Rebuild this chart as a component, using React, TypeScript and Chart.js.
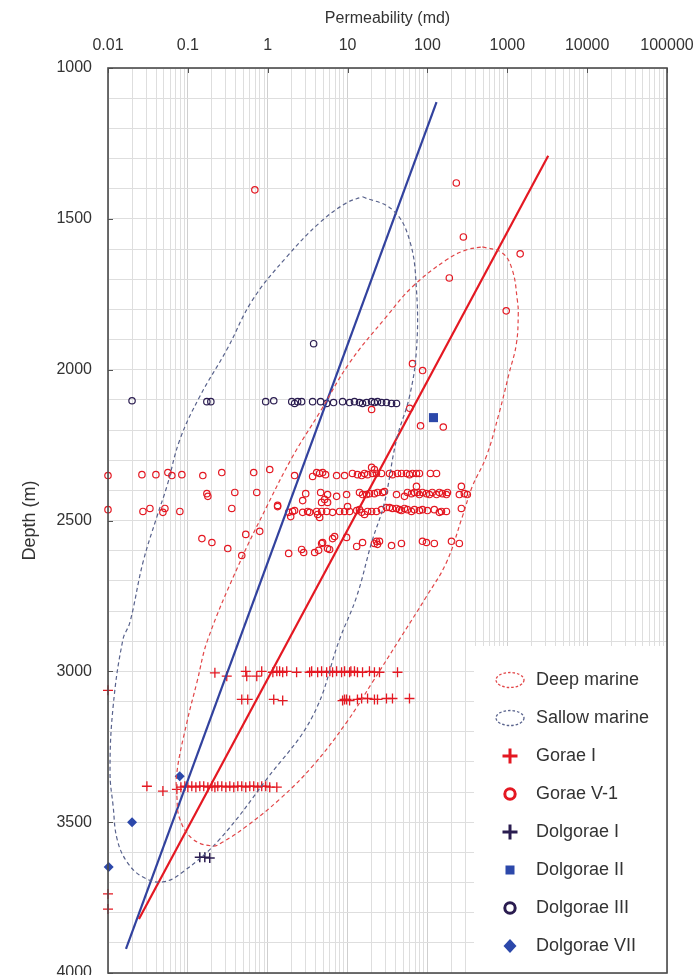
import React, { useEffect, useRef } from "react";
import { Chart, registerables } from "chart.js";

Chart.register(...registerables);

// ---------- axes ----------
const xMajorTicks = [0.01, 0.1, 1, 10, 100, 1000, 10000, 100000];
const xTickLabels = ["0.01", "0.1", "1", "10", "100", "1000", "10000", "100000"];
const xMinorSteps = [2, 3, 4, 5, 6, 7, 8, 9];
const yMin = 1000;
const yMax = 4000;
const yStep = 100;
const yLabelStep = 500;

const xTitle = "Permeability (md)";
const yTitle = "Depth (m)";

// ---------- series: [permeability (md), depth (m)] ----------
const goraeI: number[][] = [
  [0.218, 3005], [0.307, 3016], [0.531, 3000], [0.546, 3016], [0.729, 3016], [0.841, 3000],
  [1.16, 3003], [1.3, 3000], [1.41, 3000], [1.54, 3003], [1.73, 3000], [2.3, 3003],
  [3.35, 3003], [3.55, 3000], [4.22, 3003], [4.73, 3000], [5.47, 3003], [6.0, 3000],
  [6.49, 3003], [7.29, 3000], [8.41, 3003], [9.17, 3000], [10.6, 3003], [11.0, 3000],
  [12.2, 3000], [13.3, 3003], [15.4, 3003], [18.8, 3000], [21.7, 3003], [25.1, 3003],
  [42.2, 3003],
  [0.01, 3063],
  [0.473, 3093], [0.562, 3093], [1.19, 3093], [1.54, 3097], [8.66, 3097], [9.17, 3093],
  [9.72, 3093], [10.6, 3097], [13.3, 3093], [15.0, 3090], [17.8, 3090], [21.7, 3093],
  [23.7, 3093], [30.7, 3090], [36.5, 3090], [59.6, 3090],
  [0.0307, 3381], [0.0487, 3397], [0.0729, 3391], [0.0818, 3384], [0.0917, 3381], [0.1, 3384],
  [0.112, 3381], [0.126, 3384], [0.141, 3381], [0.158, 3381], [0.178, 3384], [0.2, 3381],
  [0.218, 3384], [0.237, 3381], [0.266, 3381], [0.299, 3384], [0.335, 3381], [0.376, 3384],
  [0.422, 3381], [0.473, 3381], [0.531, 3384], [0.596, 3381], [0.668, 3381], [0.75, 3384],
  [0.841, 3381], [0.944, 3381], [1.06, 3384], [1.3, 3384],
  [0.01, 3738], [0.01, 3788],
];

const goraeV1: number[][] = [
  [0.69, 1404], [230, 1381], [282, 1560], [1450, 1616], [188, 1696], [970, 1805],
  [65, 1980], [87, 2003], [20, 2132], [60, 2128], [82, 2186], [158, 2190],
  // ~2345 m
  [0.01, 2351], [0.0266, 2348], [0.0398, 2348], [0.0562, 2341], [0.0631, 2351], [0.0841, 2348],
  [0.154, 2351], [0.266, 2341], [0.668, 2341], [1.06, 2331], [2.17, 2351], [3.65, 2354],
  [4.1, 2341], [4.47, 2344], [4.87, 2341], [5.3, 2348], [7.29, 2351], [9.17, 2351],
  [11.5, 2344], [13.3, 2348], [15.0, 2351], [16.3, 2344], [17.8, 2348], [20.0, 2324],
  [21.7, 2331], [20.5, 2344], [23.0, 2344], [26.6, 2344], [33.5, 2344], [36.5, 2348],
  [42.2, 2344], [47.3, 2344], [54.7, 2344], [59.6, 2348], [64.9, 2344], [72.9, 2344],
  [79.4, 2344], [109, 2344], [130, 2344],
  // ~2410 m
  [0.173, 2411], [0.178, 2420], [0.387, 2407], [0.729, 2407], [1.33, 2450], [2.74, 2434],
  [2.99, 2411], [4.6, 2407], [4.73, 2440], [5.16, 2430], [5.62, 2440], [5.62, 2414],
  [7.29, 2420], [9.72, 2414], [14.1, 2407], [15.4, 2414], [17.3, 2414], [18.8, 2411],
  [21.7, 2411], [23.7, 2407], [27.4, 2407], [29.0, 2404], [41.0, 2414], [51.6, 2420],
  [56.2, 2407], [63.1, 2411], [68.8, 2407], [72.9, 2387], [75, 2407], [79.4, 2414],
  [86.6, 2407], [97.2, 2411], [106, 2414], [115, 2407], [130, 2414], [141, 2407],
  [154, 2411], [173, 2414], [178, 2407], [266, 2387], [251, 2414], [290, 2411], [316, 2414],
  // ~2467 m
  [0.01, 2464], [0.0274, 2470], [0.0335, 2460], [0.0487, 2473], [0.0516, 2460], [0.0794, 2470],
  [0.355, 2460], [1.33, 2454], [1.83, 2473], [1.94, 2487], [2.05, 2470], [2.17, 2467],
  [2.74, 2473], [3.16, 2470], [3.35, 2473], [4.1, 2470], [4.22, 2480], [4.47, 2490],
  [4.73, 2470], [5.47, 2470], [6.49, 2473], [7.94, 2470], [9.17, 2470], [10, 2454],
  [10.6, 2470], [13.0, 2467], [14.1, 2464], [15.0, 2473], [16.3, 2480], [17.8, 2470],
  [20.0, 2470], [23.0, 2470], [26.6, 2464], [30.7, 2457], [33.5, 2457], [36.5, 2460],
  [41.0, 2460], [44.7, 2464], [47.3, 2467], [51.6, 2460], [56.2, 2464], [63.1, 2470],
  [68.8, 2464], [79.4, 2467], [86.6, 2464], [100, 2467], [122, 2464], [141, 2473],
  [150, 2470], [173, 2470], [266, 2460],
  // ~2580 m
  [0.15, 2560], [0.2, 2573], [0.316, 2593], [0.473, 2616], [0.531, 2546], [0.794, 2536],
  [1.83, 2609], [2.66, 2596], [2.82, 2606], [3.87, 2606], [4.34, 2599], [4.73, 2576],
  [4.87, 2573], [5.62, 2593], [5.96, 2596], [6.49, 2560], [6.88, 2553], [9.72, 2556],
  [13.0, 2586], [15.4, 2573], [21.7, 2576], [23.0, 2569], [23.7, 2579], [25.1, 2569],
  [35.5, 2583], [47.3, 2576], [86.6, 2569], [97.2, 2573], [122, 2576], [200, 2569], [251, 2576],
];

const dolgoraeI: number[][] = [[0.141, 3616], [0.163, 3616], [0.188, 3619]];
const dolgoraeII: number[][] = [[119, 2159]];
const dolgoraeIII: number[][] = [
  [0.02, 2103], [0.173, 2106], [0.194, 2106], [0.944, 2106], [1.19, 2103], [2.0, 2106],
  [2.17, 2112], [2.37, 2106], [2.66, 2106], [3.65, 2106], [4.6, 2106], [5.47, 2112],
  [6.68, 2109], [8.66, 2106], [10.6, 2109], [12.2, 2106], [14.1, 2109], [15.4, 2112],
  [17.3, 2109], [20, 2106], [21.7, 2109], [23.7, 2106], [26.7, 2109], [30.7, 2109],
  [35.5, 2112], [41, 2112], [3.76, 1914],
];
const dolgoraeVII: number[][] = [[0.079, 3348], [0.02, 3500], [0.0102, 3649]];

// trend lines
const deepTrend: number[][] = [[0.0244, 3821], [3255, 1291]];
const shallowTrend: number[][] = [[0.0168, 3920], [130, 1113]];

// envelope outlines
const deepEnvelope: number[][] = [
  [487, 1593], [866, 1613], [1155, 1669], [1334, 1768], [1372, 1818], [1295, 1917],
  [1059, 2010], [794, 2142], [546, 2288], [365, 2387], [274, 2487], [173, 2639],
  [97.2, 2752], [44.7, 2894], [20.5, 3036], [9.72, 3169], [3.65, 3314], [1.41, 3424],
  [0.546, 3513], [0.274, 3566], [0.205, 3579], [0.115, 3556], [0.0794, 3490], [0.0729, 3414],
  [0.0729, 3334], [0.0973, 3169], [0.13, 3036], [0.178, 2894], [0.447, 2639], [0.972, 2454],
  [2.05, 2288], [4.47, 2142], [10.6, 1977], [30.7, 1824], [64.9, 1725], [173, 1636],
  [307, 1603], [487, 1593],
];
const shallowEnvelope: number[][] = [
  [15.4, 1427], [36.5, 1470], [59.6, 1570], [72.9, 1735], [72.9, 1934], [59.6, 2089],
  [41, 2232], [29, 2440], [20, 2573], [13, 2752], [7.94, 2894], [3.65, 3149],
  [0.972, 3357], [0.251, 3556], [0.0866, 3665], [0.0487, 3698], [0.0274, 3682], [0.0173, 3632],
  [0.013, 3556], [0.0116, 3447], [0.0106, 3334], [0.0116, 3116], [0.0154, 2894], [0.0188, 2838],
  [0.0274, 2639], [0.041, 2487], [0.0546, 2387], [0.0794, 2232], [0.141, 2089], [0.307, 1934],
  [0.649, 1768], [1.73, 1626], [4.47, 1513], [9.72, 1447], [15.4, 1427],
];

// ---------- styles ----------
const FONT = "'Liberation Sans', Arial, sans-serif";
const TEXT = "#333333";
const RED = "rgb(228,24,34)";
const RED_DASH = "rgb(226,70,72)";
const BLUE_LINE = "rgb(50,66,158)";
const BLUE_DASH = "rgb(88,98,140)";
const NAVY = "rgb(42,28,80)";
const BLUE_MARK = "rgb(44,72,170)";

const toXY = (pts: number[][]) => pts.map(([x, y]) => ({ x, y }));

type LegendItem = { label: string; kind: string; color: string };
const legendItems: LegendItem[] = [
  { label: "Deep marine", kind: "ellipse", color: RED_DASH },
  { label: "Sallow marine", kind: "ellipse", color: BLUE_DASH },
  { label: "Gorae I", kind: "plus", color: RED },
  { label: "Gorae V-1", kind: "circle", color: RED },
  { label: "Dolgorae I", kind: "plus", color: NAVY },
  { label: "Dolgorae II", kind: "square", color: BLUE_MARK },
  { label: "Dolgorae III", kind: "circle", color: NAVY },
  { label: "Dolgorae VII", kind: "diamond", color: BLUE_MARK },
];

const isMajorValue = (v: number) => xMajorTicks.findIndex((m) => Math.abs(Math.log10(v) - Math.log10(m)) < 1e-6);

const overlayPlugin = {
  id: "overlay",
  afterDraw(chart: any) {
    const { ctx, chartArea: a, scales } = chart;
    ctx.save();
    // inner major ticks
    ctx.strokeStyle = "#555";
    ctx.lineWidth = 1;
    ctx.beginPath();
    xMajorTicks.forEach((v) => {
      const px = Math.round(scales.x.getPixelForValue(v)) + 0.5;
      ctx.moveTo(px, a.top);
      ctx.lineTo(px, a.top + 5);
    });
    for (let v = yMin; v <= yMax; v += yLabelStep) {
      const py = Math.round(scales.y.getPixelForValue(v)) + 0.5;
      ctx.moveTo(a.left, py);
      ctx.lineTo(a.left + 5, py);
    }
    ctx.stroke();

    // legend box
    const lx = a.right - 193;
    const ly = a.bottom - 327;
    ctx.fillStyle = "#ffffff";
    ctx.fillRect(lx, ly, a.right - lx, a.bottom - ly);
    const iconX = lx + 36;
    const textX = lx + 62;
    const row0 = ly + 34;
    const rowStep = 38;
    ctx.font = `18px ${FONT}`;
    ctx.textBaseline = "middle";
    ctx.textAlign = "left";
    legendItems.forEach((it, i) => {
      const cy = row0 + i * rowStep;
      ctx.save();
      ctx.strokeStyle = it.color;
      ctx.fillStyle = it.color;
      if (it.kind === "ellipse") {
        ctx.lineWidth = 1.3;
        ctx.setLineDash([2.5, 2]);
        ctx.beginPath();
        ctx.ellipse(iconX, cy, 14, 7.5, 0, 0, Math.PI * 2);
        ctx.stroke();
      } else if (it.kind === "plus") {
        ctx.lineWidth = 3;
        ctx.beginPath();
        ctx.moveTo(iconX - 7.5, cy);
        ctx.lineTo(iconX + 7.5, cy);
        ctx.moveTo(iconX, cy - 7.5);
        ctx.lineTo(iconX, cy + 7.5);
        ctx.stroke();
      } else if (it.kind === "circle") {
        ctx.lineWidth = 3;
        ctx.beginPath();
        ctx.arc(iconX, cy, 5.2, 0, Math.PI * 2);
        ctx.stroke();
      } else if (it.kind === "square") {
        ctx.fillRect(iconX - 4.5, cy - 4.5, 9, 9);
      } else if (it.kind === "diamond") {
        ctx.beginPath();
        ctx.moveTo(iconX, cy - 7);
        ctx.lineTo(iconX + 6.5, cy);
        ctx.lineTo(iconX, cy + 7);
        ctx.lineTo(iconX - 6.5, cy);
        ctx.closePath();
        ctx.fill();
      }
      ctx.restore();
      ctx.fillStyle = TEXT;
      ctx.fillText(it.label, textX, cy);
    });

    // frame
    ctx.strokeStyle = "#4a4a4a";
    ctx.lineWidth = 1.6;
    ctx.setLineDash([]);
    ctx.strokeRect(a.left, a.top, a.right - a.left, a.bottom - a.top);
    ctx.restore();
  },
};

export default function App() {
  const ref = useRef<HTMLCanvasElement | null>(null);

  useEffect(() => {
    document.body.style.margin = "0";
    const canvas = ref.current;
    if (!canvas) return;

    const xGridValues: number[] = [];
    xMajorTicks.forEach((m, i) => {
      xGridValues.push(m);
      if (i < xMajorTicks.length - 1) xMinorSteps.forEach((s) => xGridValues.push(+(m * s).toPrecision(6)));
    });

    const scatterBase = { showLine: false, clip: false as any };

    const chart = new Chart(canvas, {
      type: "scatter",
      data: {
        datasets: [
          {
            label: "Deep marine",
            data: toXY(deepEnvelope),
            showLine: true,
            pointRadius: 0,
            borderColor: RED_DASH,
            borderWidth: 1.2,
            borderDash: [4, 3],
            tension: 0.4,
            fill: false,
          },
          {
            label: "Sallow marine",
            data: toXY(shallowEnvelope),
            showLine: true,
            pointRadius: 0,
            borderColor: BLUE_DASH,
            borderWidth: 1.2,
            borderDash: [4, 3],
            tension: 0.4,
            fill: false,
          },
          {
            label: "Deep marine trend",
            data: toXY(deepTrend),
            showLine: true,
            pointRadius: 0,
            borderColor: RED,
            borderWidth: 2.2,
          },
          {
            label: "Sallow marine trend",
            data: toXY(shallowTrend),
            showLine: true,
            pointRadius: 0,
            borderColor: BLUE_LINE,
            borderWidth: 2.2,
          },
          {
            ...scatterBase,
            label: "Gorae I",
            data: toXY(goraeI),
            pointStyle: "cross",
            pointRadius: 5,
            borderColor: RED,
            borderWidth: 1.3,
          },
          {
            ...scatterBase,
            label: "Gorae V-1",
            data: toXY(goraeV1),
            pointStyle: "circle",
            pointRadius: 3.2,
            borderColor: RED,
            backgroundColor: "rgba(0,0,0,0)",
            borderWidth: 1.2,
          },
          {
            ...scatterBase,
            label: "Dolgorae I",
            data: toXY(dolgoraeI),
            pointStyle: "cross",
            pointRadius: 5,
            borderColor: NAVY,
            borderWidth: 1.5,
          },
          {
            ...scatterBase,
            label: "Dolgorae II",
            data: toXY(dolgoraeII),
            pointStyle: "rect",
            pointRadius: 6.4,
            borderColor: BLUE_MARK,
            backgroundColor: BLUE_MARK,
            borderWidth: 0,
          },
          {
            ...scatterBase,
            label: "Dolgorae III",
            data: toXY(dolgoraeIII),
            pointStyle: "circle",
            pointRadius: 3.2,
            borderColor: NAVY,
            backgroundColor: "rgba(0,0,0,0)",
            borderWidth: 1.2,
          },
          {
            ...scatterBase,
            label: "Dolgorae VII",
            data: toXY(dolgoraeVII),
            pointStyle: "rectRot",
            pointRadius: 5,
            borderColor: BLUE_MARK,
            backgroundColor: BLUE_MARK,
            borderWidth: 0,
          },
        ] as any,
      },
      options: {
        animation: false,
        responsive: false,
        devicePixelRatio: 1,
        layout: { autoPadding: false, padding: { left: 0, top: 0, right: 28, bottom: 2 } },
        plugins: { legend: { display: false }, tooltip: { enabled: false } },
        scales: {
          x: {
            type: "logarithmic",
            position: "top",
            min: xMajorTicks[0],
            max: xMajorTicks[xMajorTicks.length - 1],
            afterBuildTicks: (s: any) => {
              s.ticks = xGridValues.map((v) => ({ value: v, major: isMajorValue(v) >= 0 }));
            },
            afterFit: (s: any) => {
              s.height = 68;
              s.paddingLeft = 0;
              s.paddingRight = 0;
            },
            ticks: {
              autoSkip: false,
              maxRotation: 0,
              minRotation: 0,
              padding: 13,
              color: TEXT,
              font: { family: FONT, size: 16 },
              callback: (v: any) => {
                const i = isMajorValue(Number(v));
                return i >= 0 ? xTickLabels[i] : "";
              },
            },
            grid: {
              drawTicks: false,
              color: (c: any) => (c.tick && isMajorValue(c.tick.value) >= 0 ? "#cfcfcf" : "#dedede"),
              lineWidth: 1,
            },
            border: { display: false },
            title: {
              display: true,
              text: xTitle,
              color: TEXT,
              font: { family: FONT, size: 16 },
              padding: { top: 9, bottom: 0 },
            },
          },
          y: {
            type: "linear",
            reverse: true,
            min: yMin,
            max: yMax,
            afterFit: (s: any) => {
              s.width = 108;
              s.paddingTop = 0;
              s.paddingBottom = 0;
            },
            ticks: {
              stepSize: yStep,
              autoSkip: false,
              padding: 16,
              color: TEXT,
              font: { family: FONT, size: 16 },
              callback: (v: any) => (Number(v) % yLabelStep === 0 ? String(v) : ""),
            },
            grid: { drawTicks: false, color: "#dedede", lineWidth: 1 },
            border: { display: false },
            title: {
              display: true,
              text: yTitle,
              color: TEXT,
              font: { family: FONT, size: 18 },
              padding: { top: 19, bottom: 0 },
            },
          },
        },
      } as any,
      plugins: [overlayPlugin],
    });

    return () => chart.destroy();
  }, []);

  return (
    <div style={{ width: 695, height: 975, overflow: "hidden", background: "#fff" }}>
      <canvas ref={ref} width={695} height={975} style={{ display: "block" }} />
    </div>
  );
}
